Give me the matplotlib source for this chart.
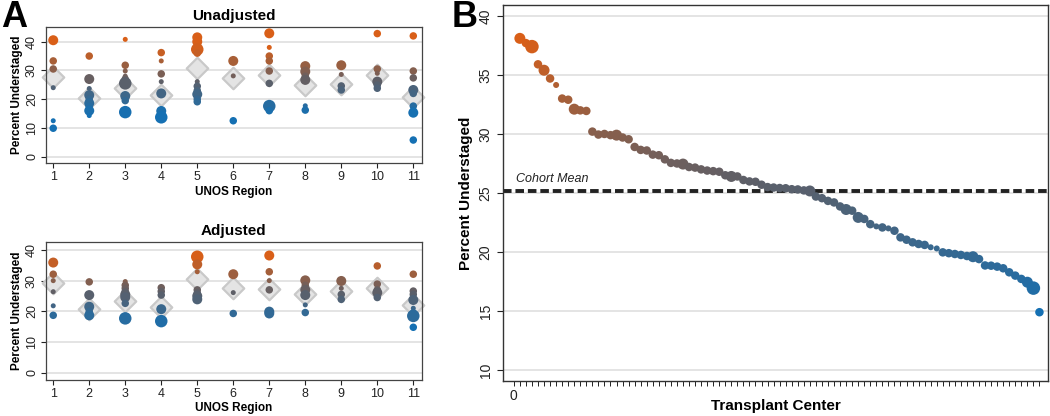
import numpy as np
import matplotlib
matplotlib.use("Agg")
import matplotlib.pyplot as plt
from matplotlib.colors import LinearSegmentedColormap, TwoSlopeNorm

plt.rcParams['font.family'] = ['Liberation Sans', 'DejaVu Sans']

# Panel A: percent understaged per centre, grouped by UNOS region
regions = list(range(1, 12))

unadj_vals = [
    [40.5, 33.3, 30.5, 24.0, 12.5, 9.9],
    [35.0, 27.0, 23.7, 21.4, 20.0, 18.6, 17.5, 16.0, 14.3],
    [40.8, 31.8, 29.8, 28.0, 27.0, 25.5, 21.1, 19.5, 15.5],
    [36.2, 33.3, 28.8, 26.1, 22.0, 15.9, 13.7],
    [41.5, 40.0, 37.3, 36.0, 26.1, 24.5, 23.0, 21.7, 20.0, 19.1],
    [33.3, 28.1, 12.5],
    [42.9, 38.0, 35.0, 33.3, 29.8, 25.5, 17.6, 16.0],
    [31.5, 29.6, 28.0, 26.7, 17.7, 16.2],
    [31.8, 28.6, 24.6, 23.2],
    [42.8, 30.5, 29.0, 26.1, 24.9, 23.8],
    [42.0, 29.8, 27.4, 23.2, 22.0, 17.6, 15.9, 15.3, 5.8],
]
unadj_vol = [
    [3, 2, 2, 1, 1, 2],
    [2, 3, 1, 3, 2, 3, 2, 3, 1],
    [1, 2, 1, 1, 2, 4, 3, 2, 4],
    [2, 1, 2, 1, 3, 3, 4],
    [3, 3, 4, 2, 1, 2, 2, 3, 2, 2],
    [3, 1, 2],
    [3, 1, 2, 2, 2, 2, 4, 2],
    [3, 3, 2, 3, 1, 2],
    [3, 1, 2, 2],
    [2, 2, 1, 3, 2, 2],
    [2, 2, 2, 3, 2, 2, 2, 3, 2],
]
unadj_mean = [27.6, 20.3, 23.8, 21.4, 31.0, 27.5, 28.4, 24.9, 25.3, 28.4, 20.9]

adj_vals = [
    [35.9, 32.1, 30.0, 26.4, 21.8, 18.7],
    [29.6, 25.3, 21.5, 20.0, 18.7, 18.5],
    [29.7, 28.5, 27.5, 26.5, 25.5, 24.6, 22.6, 17.7],
    [27.7, 26.5, 25.3, 20.7, 16.8],
    [37.8, 35.3, 32.9, 27.0, 26.0, 25.0, 23.9],
    [32.1, 26.1, 19.3],
    [38.2, 32.9, 30.0, 27.0, 19.9, 19.3],
    [30.1, 28.5, 27.0, 25.3, 22.1, 19.6],
    [29.9, 27.5, 25.5, 23.9],
    [34.8, 28.9, 27.0, 26.1, 24.5],
    [32.1, 26.6, 25.5, 23.7, 21.0, 19.5, 18.5, 14.8],
]
adj_vol = [
    [3, 2, 1, 1, 1, 2],
    [2, 3, 3, 2, 3, 2],
    [1, 2, 2, 2, 3, 3, 2, 4],
    [2, 2, 2, 3, 4],
    [4, 3, 1, 2, 2, 3, 3],
    [3, 1, 2],
    [3, 2, 1, 2, 3, 3],
    [3, 2, 3, 3, 1, 2],
    [3, 1, 2, 2],
    [2, 2, 2, 3, 2],
    [2, 2, 2, 3, 1, 2, 4, 2],
]
adj_mean = [29.1, 20.9, 23.5, 21.5, 30.7, 27.5, 27.3, 25.5, 26.6, 27.5, 22.2]

# Panel B: centres ranked by percent understaged
center_vals = [
    38.1, 37.7, 37.4, 35.9, 35.4, 34.7, 34.15, 33.0, 32.9, 32.1,
    32.0, 31.95, 30.2, 29.95, 30.0, 29.9, 29.9, 29.7, 29.55, 28.9,
    28.65, 28.6, 28.25, 28.2, 27.85, 27.55, 27.5, 27.45, 27.2, 27.15,
    27.0, 26.9, 26.85, 26.8, 26.5, 26.4, 26.4, 26.1, 25.98, 25.95,
    25.7, 25.5, 25.46, 25.42, 25.4, 25.32, 25.3, 25.22, 25.17, 24.7,
    24.56, 24.33, 24.2, 23.86, 23.6, 23.5, 22.93, 22.8, 22.36, 22.17,
    22.08, 22.0, 21.8, 21.24, 21.04, 20.82, 20.68, 20.6, 20.4, 20.3,
    19.97, 19.9, 19.83, 19.75, 19.66, 19.6, 19.4, 18.86, 18.84, 18.76,
    18.62, 18.28, 18.0, 17.72, 17.44, 16.94, 14.9,
]
center_vol = [
    3, 2, 4, 2, 3, 2, 1, 2, 2, 3,
    2, 2, 2, 2, 2, 2, 3, 2, 2, 2,
    2, 2, 2, 2, 2, 2, 2, 3, 2, 2,
    2, 2, 2, 2, 2, 3, 2, 2, 2, 2,
    2, 2, 2, 2, 2, 2, 2, 2, 3, 2,
    2, 2, 2, 2, 3, 2, 3, 2, 2, 1,
    2, 1, 2, 2, 2, 2, 2, 2, 1, 1,
    2, 2, 2, 2, 2, 3, 2, 2, 2, 2,
    2, 2, 2, 2, 3, 4, 2,
]
cohort_mean = 25.2

# colour scale: blue (low) -> grey -> orange (high)
cmap = LinearSegmentedColormap.from_list("bo", ["#1570b3", "#5d5f68", "#d95f18"])
norm = TwoSlopeNorm(vmin=15, vcenter=26, vmax=38)

def px_area(code, scale):
    d = np.array(scale)[np.array(code) - 1] * 0.72
    return d ** 2

fig = plt.figure(figsize=(10.5, 4.16), dpi=100)

def region_panel(rect, vals, vols, means, title):
    ax = fig.add_axes(rect)
    xs = np.concatenate([[r] * len(v) for r, v in zip(regions, vals)])
    ys = np.concatenate(vals)
    ss = px_area(np.concatenate(vols), [5, 7.5, 10, 12.5])
    ax.scatter(regions, means, marker='D', s=120, facecolor='#e4e4e4',
               edgecolor='#c9c9c9', linewidth=1.6, zorder=2, clip_on=False)
    ax.scatter(xs, ys, s=ss, c=cmap(norm(np.clip(ys, 15, 38))),
               linewidth=0, zorder=3, clip_on=False)
    ax.set_xlim(0.79, 11.23)
    ax.set_xticks(regions)
    ax.set_yticks([0, 10, 20, 30, 40])
    ax.yaxis.grid(True, color='#dcdcdc', linewidth=1.1, zorder=0)
    ax.set_axisbelow(True)
    for lab in ax.get_yticklabels():
        lab.set_rotation(90)
        lab.set_va('center')
    ax.tick_params(labelsize=9, length=3.5, width=0.8, colors='#222222', pad=2)
    for sp in ax.spines.values():
        sp.set_color('#444444')
        sp.set_linewidth(0.9)
    ax.set_title(title, fontsize=11, fontweight='bold', pad=5)
    ax.set_xlabel("UNOS Region", fontsize=8.5, fontweight='bold', labelpad=2)
    ax.set_ylabel("Percent Understaged", fontsize=8.5, fontweight='bold', labelpad=2)
    return ax

ax1 = region_panel([0.0435, 0.6074, 0.358, 0.3284], unadj_vals, unadj_vol, unadj_mean, "Unadjusted")
ax1.set_ylim(-2.3, 45.2)
ax2 = region_panel([0.0435, 0.0865, 0.358, 0.331], adj_vals, adj_vol, adj_mean, "Adjusted")
ax2.set_ylim(-2.4, 42.5)

# Panel B
axb = fig.add_axes([0.479, 0.0841, 0.519, 0.904])
rank = np.arange(1, len(center_vals) + 1)
vals_b = np.array(center_vals)
axb.scatter(rank, vals_b, s=px_area(center_vol, [6, 8.5, 11, 13.5]),
            c=cmap(norm(np.clip(vals_b, 15, 38))), linewidth=0, zorder=3)
axb.axhline(cohort_mean, color='#222222', linewidth=2.8, dashes=(2.2, 1.0), zorder=2)
axb.text(0.3, cohort_mean + 0.45, "Cohort Mean", fontsize=9, fontstyle='italic',
         color='#222222', va='bottom', ha='left')
axb.set_xlim(-1.8, len(center_vals) + 1.4)
axb.set_ylim(9.07, 40.93)
axb.set_yticks([10, 15, 20, 25, 30, 35, 40])
axb.set_xticks(np.arange(0, len(center_vals) + 1))
axb.set_xticklabels(['0'] + [''] * len(center_vals))
axb.yaxis.grid(True, color='#dcdcdc', linewidth=1.1, zorder=0)
axb.set_axisbelow(True)
for lab in axb.get_yticklabels():
    lab.set_rotation(90)
    lab.set_va('center')
axb.tick_params(labelsize=10, length=4.5, width=0.8, colors='#222222', pad=3)
axb.tick_params(axis='x', length=3.5, width=0.7, pad=2)
for sp in axb.spines.values():
    sp.set_color('#333333')
    sp.set_linewidth(1.0)
axb.set_xlabel("Transplant Center", fontsize=11, fontweight='bold', va='center')
axb.xaxis.set_label_coords(0.5, -0.066)
axb.set_ylabel("Percent Understaged", fontsize=11, fontweight='bold', labelpad=4)

fig.text(0.001, 1.0, "A", fontsize=26, fontweight='bold', va='top', ha='left')
fig.text(0.430, 1.0, "B", fontsize=26, fontweight='bold', va='top', ha='left')

fig.savefig("out.png", dpi=100)
